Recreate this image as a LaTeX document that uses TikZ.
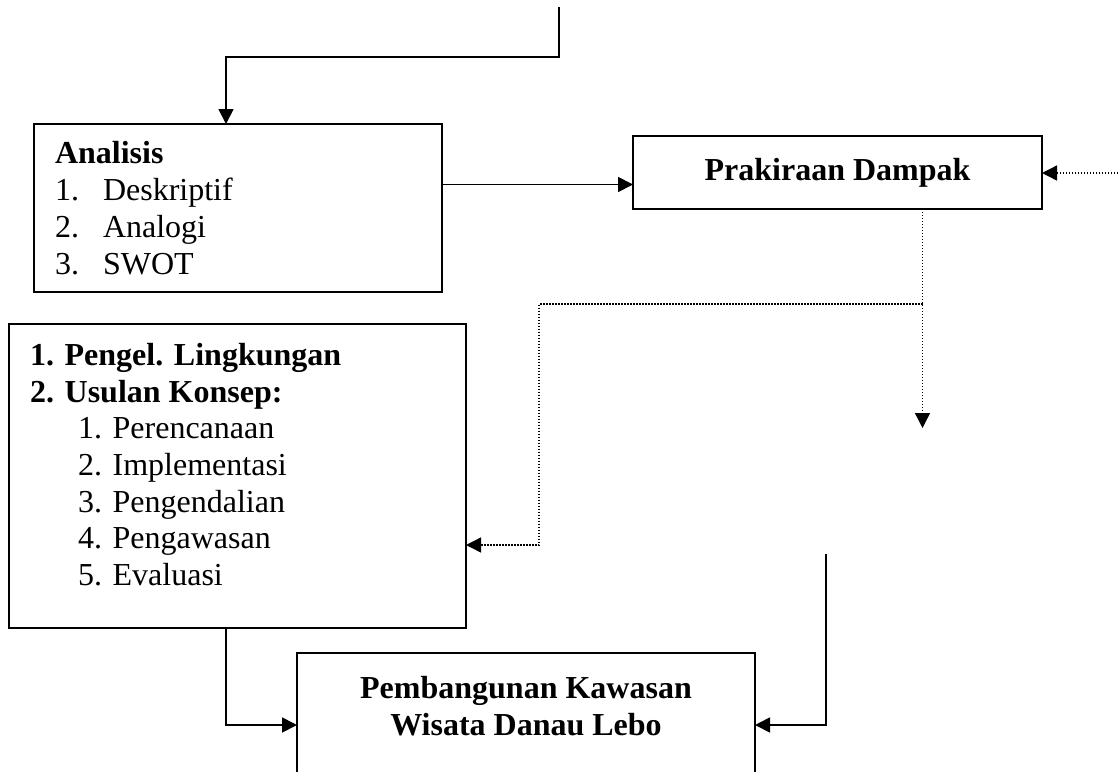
\documentclass[tikz,border=0pt]{standalone}
\usepackage{fontspec}
\setmainfont{Liberation Serif}
\usetikzlibrary{arrows.meta}
\tikzset{
  box/.style={draw, line width=1.8pt, rectangle, inner sep=0pt, outer sep=0pt},
  txt/.style={anchor=base west, inner sep=0pt, outer sep=0pt, font=\fontsize{32}{37}\selectfont},
  ctxt/.style={anchor=base, inner sep=0pt, outer sep=0pt, font=\fontsize{32}{37}\selectfont\bfseries},
  conn/.style={line width=1.8pt},
  arr/.style={conn, -{Triangle[length=15pt,width=15pt]}},
  darr/.style={line width=1.4pt, dash pattern=on 1.4pt off 1.6pt, -{Triangle[length=15pt,width=15pt]}}
}
\begin{document}
\begin{tikzpicture}[x=1pt,y=-1pt]
\useasboundingbox (0,0) rectangle (1118,771);
\clip (0,0) rectangle (1118,771);
\fill[white] (0,0) rectangle (1118,771);

% boxes
\node[box, minimum width=408pt, minimum height=168pt] (ana) at (238,208) {};
\node[box, minimum width=409pt, minimum height=73pt] (prak) at (837.5,172.5) {};
\node[box, minimum width=457pt, minimum height=304pt] (peng) at (237.5,476) {};
\node[box, minimum width=458pt, minimum height=124pt] (pemb) at (526,715) {};

% texts of Analisis
\node[txt, font=\fontsize{32}{37}\selectfont\bfseries] (a0) at (55,163) {Analisis};
\node[txt] (a1n) at (55,200) {1.};
\node[txt] (a1) at (103,200) {Deskriptif};
\node[txt] (a2n) at (55,237) {2.};
\node[txt] (a2) at (103,237) {Analogi};
\node[txt] (a3n) at (55,274) {3.};
\node[txt] (a3) at (103,274) {SWOT};

% Prakiraan
\node[ctxt] (p0) at (837.5,180) {Prakiraan Dampak};

% Pengelolaan box
\node[txt, font=\fontsize{32}{37}\selectfont\bfseries] (g1) at (30,365) {1. Pengel. Lingkungan};
\node[txt, font=\fontsize{32}{37}\selectfont\bfseries] (g2) at (30,402) {2. Usulan Konsep:};
\node[txt] (g3) at (78,438) {1. Perencanaan};
\node[txt] (g4) at (78,475) {2. Implementasi};
\node[txt] (g5) at (78,512) {3. Pengendalian};
\node[txt] (g6) at (78,548) {4. Pengawasan};
\node[txt] (g7) at (78,585) {5. Evaluasi};

% Pembangunan
\node[ctxt] (b1t) at (526,698) {Pembangunan Kawasan};
\node[ctxt] (b2t) at (526,735) {Wisata Danau Lebo};

% coordinates
\coordinate (t0) at (559,7);
\coordinate (tj) at (226,57);
\coordinate (ay) at (0,184.5);
\coordinate (r0) at (1118,173);
\coordinate (d0) at (922.5,428);
\coordinate (d1) at (922.5,304);
\coordinate (d2) at (539,545);
\coordinate (bl) at (226,725);
\coordinate (br0) at (826,554);
\coordinate (br) at (826,725);

% connectors
\draw[arr] (t0) |- (tj) -- (tj |- ana.north);
\draw[arr] (ana.east |- ay) -- (prak.west |- ay);
\draw[darr] (r0) -- (prak.east |- r0);
\draw[darr] (prak.south -| d0) -- (d0);
\draw[darr] (d1) -| (d2) -- (peng.east |- d2);
\draw[arr] (peng.south -| bl) -- (bl) -- (pemb.west |- bl);
\draw[arr] (br0) -- (br) -- (pemb.east |- br);
\end{tikzpicture}
\end{document}
